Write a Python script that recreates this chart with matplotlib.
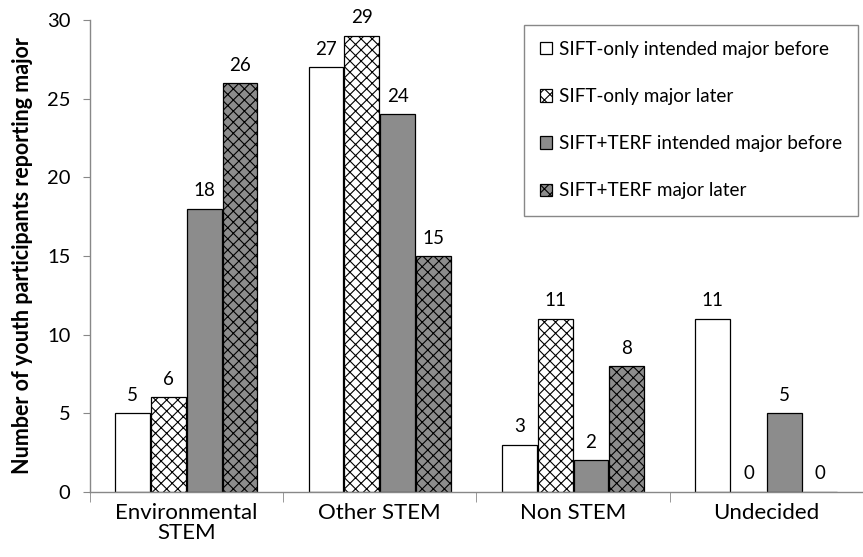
import numpy as np
import matplotlib
matplotlib.use('Agg')
import matplotlib.pyplot as plt

plt.rcParams['font.family'] = ['Lato', 'DejaVu Sans']
plt.rcParams['hatch.linewidth'] = 0.8

# data
categories = ['Environmental\nSTEM', 'Other STEM', 'Non STEM', 'Undecided']
series = ['SIFT-only intended major before', 'SIFT-only major later',
          'SIFT+TERF intended major before', 'SIFT+TERF major later']
sift_before = [5, 27, 3, 11]
sift_later = [6, 29, 11, 0]
terf_before = [18, 24, 2, 5]
terf_later = [26, 15, 8, 0]

values = [sift_before, sift_later, terf_before, terf_later]
fills = ['white', 'white', '#8c8c8c', '#8c8c8c']
hatches = [None, 'xxx', None, 'xxx']

fig = plt.figure(figsize=(8.63, 5.57), dpi=100)
ax = fig.add_axes([0.104, 0.117, 0.896, 0.847])

x = np.arange(len(categories))
w = 0.18
step = 0.185
for i, vals in enumerate(values):
    pos = x + (i - 1.5) * step
    ax.bar(pos, vals, w, color=fills[i], edgecolor='black', linewidth=0.9,
           hatch=hatches[i], label=series[i])
    for p, v in zip(pos, vals):
        ax.text(p, v + 0.6, str(v), ha='center', va='bottom', fontsize=13.5)

ax.set_xlim(-0.5, 3.464)
ax.set_ylim(0, 30)
ax.set_yticks(range(0, 31, 5))
ax.set_xticks(x)
ax.set_xticklabels(categories, fontsize=16, linespacing=1.0)
ax.set_xticks(np.arange(-0.5, 3.6, 1), minor=True)
ax.tick_params(axis='x', which='major', length=0, pad=8)
ax.tick_params(axis='x', which='minor', length=7, color='#888888')
ax.tick_params(axis='y', length=5, color='#888888', labelsize=14.5, pad=9)

for s in ['top', 'right']:
    ax.spines[s].set_visible(False)
for s in ['left', 'bottom']:
    ax.spines[s].set_color('#888888')
    ax.spines[s].set_linewidth(1.0)

ax.set_ylabel('Number of youth participants reporting major', fontsize=15.5,
              fontweight='bold', labelpad=10)

leg = ax.legend(loc='upper right', bbox_to_anchor=(0.9935, 0.99), fontsize=13.6,
                handlelength=0.65, handleheight=0.65, handletextpad=0.35,
                labelspacing=1.6, borderpad=0.85, borderaxespad=0, fancybox=False,
                edgecolor='#888888', framealpha=1)
leg.get_frame().set_linewidth(1.0)

fig.savefig('out.png', dpi=100)
